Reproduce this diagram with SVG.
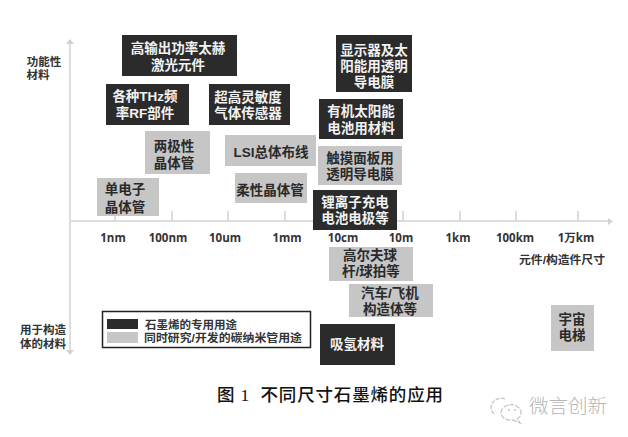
<svg xmlns="http://www.w3.org/2000/svg" width="628" height="437" viewBox="0 0 628 437">
<style>
text{font-family:"Liberation Sans","Noto Sans CJK SC",sans-serif;text-anchor:middle;font-weight:700}
.d{fill:#2b2b2b}.g{fill:#c6c6c6}
.dt{fill:#f2f2f2;font-size:13.500px}.gt{fill:#2a2a2a;font-size:13.500px}
.ax{stroke:#d2d2d2;stroke-width:1.5;fill:none}
.tk{fill:#333;font-size:11.5px;font-family:"Open Sans","Noto Sans CJK SC",sans-serif}
.lb{fill:#333;font-size:11.500px}
.lg{fill:#333;font-size:11.5px;text-anchor:start}
</style>
<rect width="628" height="437" fill="#fff"/>
<g id="connectors">
<path class="ax" d="M70 44V350M71 221H610M115 211V221M172 211V221M228 211V221M285 211V221M403 211V221M460 211V221M516 211V221M578 211V221"/>
<path d="M66 44L70 39L74 44Z" fill="#d2d2d2"/>
<path d="M66 350L70 355L74 350Z" fill="#d2d2d2"/>
<path d="M608 218L613 221.500L608 225Z" fill="#d2d2d2"/>
</g>
<g id="axis-labels">
<text class="lb" x="44" y="66">功能性</text><text class="lb" x="38" y="79">材料</text>
<text class="lb" x="43" y="334">用于构造</text><text class="lb" x="43" y="348">体的材料</text>
<text class="lb" x="562" y="264" textLength="86" lengthAdjust="spacingAndGlyphs">元件/构造件尺寸</text>
<text class="tk" x="113" y="242">1nm</text><text class="tk" x="168" y="242">100nm</text><text class="tk" x="225" y="242">10um</text><text class="tk" x="287" y="242">1mm</text><text class="tk" x="343" y="242">10cm</text><text class="tk" x="401" y="242">10m</text><text class="tk" x="458" y="242">1km</text><text class="tk" x="515" y="242">100km</text><text class="tk" x="576" y="242">1万km</text>
</g>
<g id="n1"><rect class="d" x="122" y="35" width="115" height="41"/><text class="dt" x="178" y="53">高输出功率太赫</text><text class="dt" x="178" y="70">激光元件</text></g>
<g id="n2"><rect class="d" x="106" y="84" width="83" height="41"/><text class="dt" x="145" y="101">各种THz频</text><text class="dt" x="145" y="118">率RF部件</text></g>
<g id="n3"><rect class="d" x="209" y="84" width="81" height="41"/><text class="dt" x="248" y="102">超高灵敏度</text><text class="dt" x="248" y="118">气体传感器</text></g>
<g id="n4"><rect class="g" x="145" y="131" width="65" height="43"/><text class="gt" x="174" y="151">两极性</text><text class="gt" x="174" y="168">晶体管</text></g>
<g id="n5"><rect class="g" x="225" y="135" width="91" height="31"/><text class="gt" x="271" y="157">LSI总体布线</text></g>
<g id="n6"><rect class="g" x="235" y="173" width="72" height="30"/><text class="gt" x="270" y="195">柔性晶体管</text></g>
<g id="n7"><rect class="g" x="97" y="178" width="62" height="38"/><text class="gt" x="125" y="194">单电子</text><text class="gt" x="125" y="212">晶体管</text></g>
<g id="n8"><rect class="d" x="336" y="35" width="76" height="57"/><text class="dt" x="374" y="55">显示器及太</text><text class="dt" x="374" y="71">阳能用透明</text><text class="dt" x="374" y="87">导电膜</text></g>
<g id="n9"><rect class="d" x="319" y="99" width="84" height="40"/><text class="dt" x="361" y="116">有机太阳能</text><text class="dt" x="361" y="133">电池用材料</text></g>
<g id="n10"><rect class="g" x="318" y="146" width="84" height="39"/><text class="gt" x="360" y="163">触摸面板用</text><text class="gt" x="360" y="179">透明导电膜</text></g>
<g id="n11"><rect class="d" x="313" y="190" width="84" height="40"/><text class="dt" x="355" y="207">锂离子充电</text><text class="dt" x="355" y="223">电池电极等</text></g>
<g id="n12"><rect class="g" x="329" y="247" width="84" height="34"/><text class="gt" x="370" y="260">高尔夫球</text><text class="gt" x="371" y="276">杆/球拍等</text></g>
<g id="n13"><rect class="g" x="349" y="284" width="84" height="33"/><text class="gt" x="390" y="298">汽车/飞机</text><text class="gt" x="390" y="314">构造体等</text></g>
<g id="n14"><rect class="d" x="320" y="324" width="75" height="41"/><text class="dt" x="357" y="349">吸氢材料</text></g>
<g id="n15"><rect class="g" x="551" y="305" width="43" height="46"/><text class="gt" x="572" y="324">宇宙</text><text class="gt" x="572" y="340">电梯</text></g>
<g id="legend">
<rect x="102.500" y="311.500" width="208" height="36" fill="#fff" stroke="#222" stroke-width="1.500"/>
<rect class="d" x="107" y="319" width="31" height="10"/><rect class="g" x="107" y="332" width="31" height="11"/>
<text class="lg" x="145" y="329">石墨烯的专用用途</text><text class="lg" x="144" y="342" textLength="158" lengthAdjust="spacingAndGlyphs">同时研究/开发的碳纳米管用途</text>
</g>
<text x="330" y="401" textLength="226" style="font-family:'Liberation Serif','Noto Sans CJK SC',serif;font-size:17.500px;font-weight:500;fill:#111" xml:space="preserve">图 1  不同尺寸石墨烯的应用</text>
<g id="watermark" fill="none" stroke="#c4c4c4" stroke-width="1.300">
<path d="M505 399C497 396 491 402 491 408C491 411 493 413 495 415" stroke-dasharray="4 1.500"/>
<path d="M509 405C515 403 521 408 521 413C521 416 519 418 517 419L520 423L513 420C506 421 501 417 501 413C501 409 504 406 509 405Z" stroke-dasharray="5 1.500"/>
<path d="M508 410h1.500M514 410h1.500" stroke-width="1.800"/>
<text x="568" y="413" style="font-family:'Noto Sans CJK SC',sans-serif;font-size:19.500px;font-weight:300;fill:#b5b5b5;stroke:none">微言创新</text>
</g>
</svg>
